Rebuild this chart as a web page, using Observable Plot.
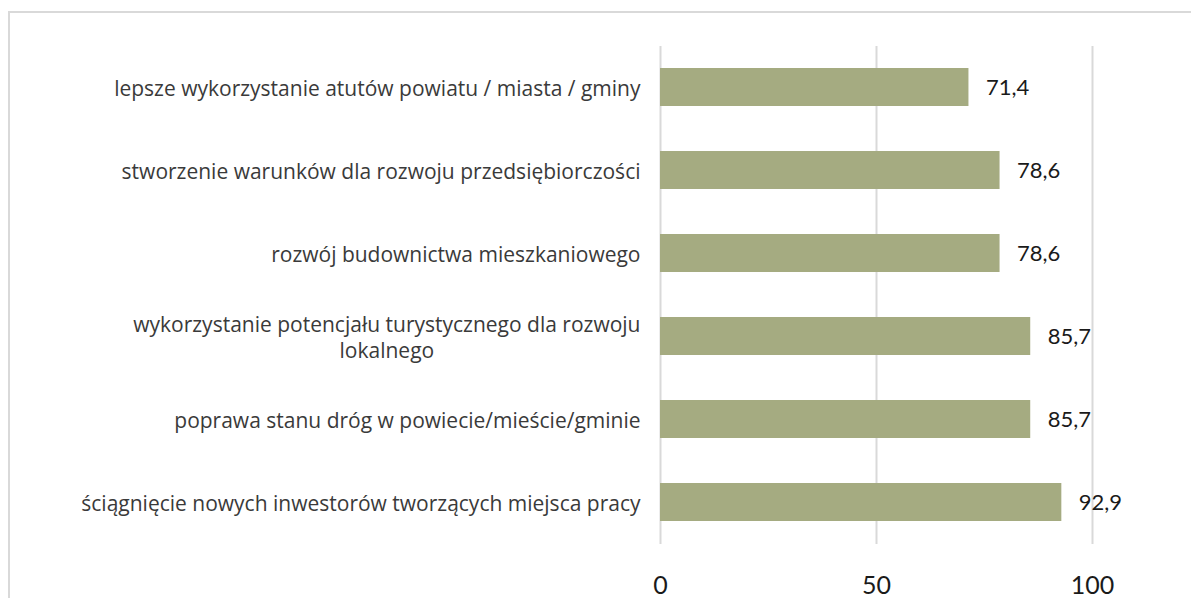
<!DOCTYPE html>
<html>
<head>
<meta charset="utf-8">
<script src="https://cdn.jsdelivr.net/npm/d3@7"></script>
<script src="https://cdn.jsdelivr.net/npm/@observablehq/plot@0.6"></script>
<style>
  html, body { margin: 0; padding: 0; background: #fff; overflow: hidden; width: 1191px; height: 598px; }
  #frame { position: absolute; left: 8px; top: 11px; width: 1300px; height: 700px; border: 2px solid #d9d9d9; box-sizing: border-box; }
  #chart { position: absolute; left: 0; top: 0; }
</style>
</head>
<body>
<div id="frame"></div>
<div id="chart"></div>
<script>
const categories = [
  "lepsze wykorzystanie atutów powiatu / miasta / gminy",
  "stworzenie warunków dla rozwoju przedsiębiorczości",
  "rozwój budownictwa mieszkaniowego",
  "wykorzystanie potencjału turystycznego dla rozwoju\nlokalnego",
  "poprawa stanu dróg w powiecie/mieście/gminie",
  "ściągnięcie nowych inwestorów tworzących miejsca pracy"
];
const values = [71.4, 78.6, 78.6, 85.7, 85.7, 92.9];
const xTicks = [0, 50, 100];

const data = categories.map((c, i) => ({category: c, value: values[i]}));
const fmt = v => v.toFixed(1).replace(".", ",");

const chart = Plot.plot({
  width: 1191,
  height: 598,
  marginLeft: 660,
  marginRight: 99,
  marginTop: 46,
  marginBottom: 54,
  style: {fontFamily: "Lato", background: "transparent", color: "#1a1a1a"},
  x: {domain: [0, 100]},
  y: {domain: categories, paddingInner: 0.542, paddingOuter: 0.271},
  marks: [
    Plot.gridX(xTicks, {stroke: "#d9d9d9", strokeOpacity: 1, strokeWidth: 2}),
    Plot.barX(data, {x: "value", y: "category", fill: "#a5ab81"}),
    Plot.text(data, {x: "value", y: "category", text: d => fmt(d.value), dx: 17, textAnchor: "start", fontSize: 22, fill: "#1a1a1a"}),
    Plot.axisX(xTicks, {tickSize: 0, tickPadding: 32, fontSize: 25, fill: "#1a1a1a", label: null}),
    Plot.axisY({tickSize: 0, tickPadding: 20, fontSize: 21, fontFamily: "Open Sans", lineHeight: 1.24, fill: "#3a3a3a", label: null, textOverflow: null, lineWidth: Infinity})
  ]
});
document.getElementById("chart").appendChild(chart);

// center multi-line category labels like the original
chart.querySelectorAll("[aria-label='y-axis tick label'] text").forEach(t => {
  const spans = t.querySelectorAll("tspan");
  if (spans.length > 1) {
    const w = t.getBBox().width;
    t.setAttribute("text-anchor", "middle");
    spans.forEach(s => s.setAttribute("x", -w / 2));
  }
});
</script>
</body>
</html>
